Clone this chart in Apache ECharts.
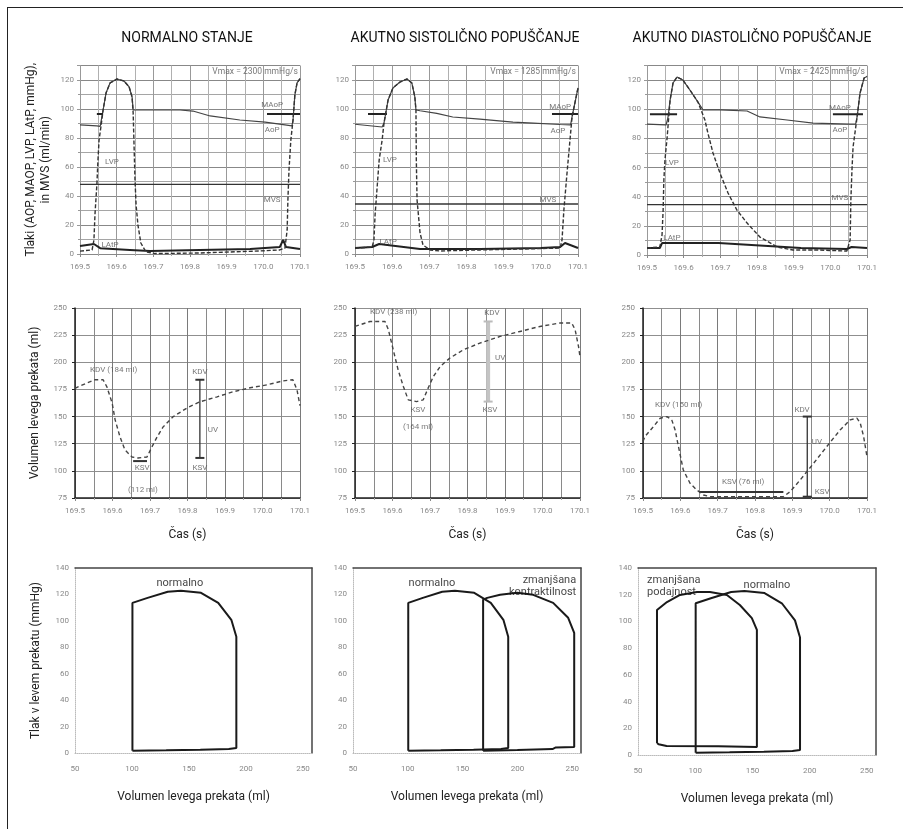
<!DOCTYPE html>
<html>
<head>
<meta charset="utf-8">
<script src="https://cdn.jsdelivr.net/npm/echarts@6/dist/echarts.min.js"></script>
<style>
html,body{margin:0;padding:0;background:#fff}
#wrap{position:relative;width:903px;height:829px;overflow:hidden}
#frame{position:absolute;left:7px;top:7px;width:910px;height:840px;border-left:1.5px solid #222;border-top:1.5px solid #222;pointer-events:none}
#chart{position:absolute;left:0;top:0;width:903px;height:829px}
</style>
</head>
<body>
<div id="wrap"><div id="chart"></div><div id="frame"></div></div>
<script>
// naslovi stolpcev
var titles = ['NORMALNO STANJE', 'AKUTNO SISTOLIČNO POPUŠČANJE', 'AKUTNO DIASTOLIČNO POPUŠČANJE'];

// osi
var timeRange = [169.5, 170.1, 0.1];      // cas (s)
var pressRange = [0, 130, 20];            // tlaki (mmHg)
var volRange = [75, 250, 25];             // volumen (ml)
var pvVolRange = [50, 258, 50];           // volumen v PV zanki
var pvPressRange = [0, 140, 20];          // tlak v PV zanki

// --- zgornja vrsta: tlaki [cas, mmHg] ---
var lvpNorm = [[169.5,2],[169.533,2.8],[169.538,9.7],[169.541,28],[169.546,47.6],[169.549,64.8],[169.552,78.6],[169.557,87.6],[169.563,99.3],[169.571,111],[169.582,118],[169.601,120.7],[169.62,119.3],[169.634,115.2],[169.642,108.3],[169.645,97.2],[169.647,78.6],[169.65,51],[169.653,33.8],[169.658,20],[169.666,7.6],[169.68,1.4],[169.705,0.3],[169.745,0.4],[169.827,0.7],[169.909,1.4],[169.991,2.1],[170.045,2.8],[170.059,4.1],[170.065,16.6],[170.067,37.2],[170.07,57.9],[170.075,78.6],[170.081,92.4],[170.086,109.7],[170.092,118],[170.1,121]];
var aopNorm = [[169.5,89],[169.546,88.3],[169.555,88],[169.557,88.5],[169.563,99.3],[169.571,111],[169.582,118],[169.601,120.7],[169.62,119.3],[169.634,115.2],[169.642,108.3],[169.645,99.3],[169.647,98],[169.691,99.3],[169.773,99.3],[169.808,98.6],[169.855,95.2],[169.936,92.4],[170.005,91],[170.059,89],[170.078,88.3],[170.081,92.4],[170.086,109.7],[170.092,118],[170.1,121]];
var latpNorm = [[169.5,5.5],[169.538,6.9],[169.555,4],[169.636,2.8],[169.691,2],[169.827,2.8],[169.964,3.4],[170.045,4.8],[170.054,9.7],[170.062,4.8],[170.1,3.4]];

var lvpSys = [[169.5,4.1],[169.546,4.8],[169.551,9.7],[169.554,26.9],[169.559,44.1],[169.565,64.8],[169.573,78.6],[169.578,90.3],[169.589,106.2],[169.602,114.5],[169.621,118.6],[169.64,120.7],[169.653,117.9],[169.661,108.3],[169.664,99.3],[169.665,64.8],[169.667,37.2],[169.675,14.5],[169.683,6.2],[169.702,2.8],[169.729,2.1],[169.836,2.8],[169.944,3.4],[170.052,4.1],[170.057,9.7],[170.062,30.3],[170.07,54.5],[170.076,71.7],[170.084,94.5],[170.095,108.3],[170.1,114.5]];
var aopSys = [[169.5,89.5],[169.573,87.6],[169.578,90.3],[169.589,106.2],[169.602,114.5],[169.621,118.6],[169.64,120.7],[169.653,117.9],[169.661,108.3],[169.664,99.3],[169.675,98.8],[169.72,97],[169.763,94.5],[169.836,93],[169.925,91],[169.98,90.3],[170.052,89.3],[170.08,89],[170.084,94.5],[170.095,108.3],[170.1,114.5]];
var latpSys = [[169.5,4.1],[169.546,4.8],[169.565,6.9],[169.675,3.4],[169.836,3.4],[170,4.1],[170.052,4.8],[170.065,7.6],[170.1,4.1]];

var lvpDia = [[169.5,4.8],[169.535,5.5],[169.541,13.7],[169.544,30.9],[169.546,51.4],[169.549,65.2],[169.555,80.9],[169.563,106.3],[169.571,118],[169.582,122.1],[169.598,120],[169.617,113.2],[169.639,104.9],[169.658,92.6],[169.666,83.7],[169.68,70],[169.699,56.2],[169.721,42.5],[169.745,30.9],[169.773,21.9],[169.808,12.3],[169.855,5.5],[169.898,3.4],[169.972,3.4],[170.045,2.7],[170.054,10.3],[170.056,37.7],[170.059,58.3],[170.062,74.1],[170.073,94.7],[170.081,111.1],[170.092,121.4],[170.1,122.5]];
var aopDia = [[169.5,89.8],[169.552,89.2],[169.557,94],[169.563,106.3],[169.571,118],[169.582,122.1],[169.598,120],[169.617,113.2],[169.639,104.9],[169.653,99.5],[169.699,99.5],[169.773,98.8],[169.808,94.7],[169.882,92.6],[169.953,90.5],[170.054,89.8],[170.069,89.8],[170.073,94.7],[170.081,111.1],[170.092,121.4],[170.1,122.5]];
var latpDia = [[169.5,4.8],[169.535,4.8],[169.541,8.2],[169.695,8.2],[169.785,6.9],[169.92,4.8],[170.045,4.1],[170.058,5.5],[170.1,4.8]];

var mvsValues = [48, 34.5, 34.5];
var maopValue = 96.5;
var maopSpans = [[[169.546,169.563],[170.01,170.1]], [[169.535,169.586],[170.03,170.1]], [[169.508,169.582],[170.007,170.089]]];
var vmaxTexts = ['Vmax = 2300 mmHg/s', 'Vmax = 1285 mmHg/s', 'Vmax = 2425 mmHg/s'];

// --- srednja vrsta: volumen [cas, ml] ---
var volNorm = [[169.5,176],[169.508,177.4],[169.553,183.9],[169.575,183.9],[169.585,177.4],[169.599,162.6],[169.607,147],[169.62,131.3],[169.633,119.3],[169.652,112.8],[169.668,111.9],[169.692,112.8],[169.705,122],[169.719,131.3],[169.735,140.5],[169.761,149.7],[169.799,158],[169.833,163.6],[169.879,168.2],[169.921,172.8],[169.967,176.5],[170.012,179.2],[170.055,182.9],[170.081,183.9],[170.092,174.6],[170.1,160]];
var volSys = [[169.5,233],[169.54,237.6],[169.58,237.6],[169.589,230],[169.602,211.5],[169.615,193],[169.629,177.7],[169.642,165.4],[169.664,163.8],[169.682,165.4],[169.695,176.2],[169.709,186.9],[169.727,196.1],[169.753,203.9],[169.789,211.5],[169.833,217.7],[169.887,223.8],[169.94,228.4],[169.993,233],[170.047,236.2],[170.078,236.2],[170.087,230],[170.096,214.6],[170.1,205]];
var volDia = [[169.5,127],[169.505,131.5],[169.528,140.8],[169.546,148.5],[169.564,150],[169.577,147],[169.586,137.7],[169.595,122.3],[169.608,100.8],[169.626,88.6],[169.644,82.4],[169.662,77.8],[169.68,76.2],[169.876,76.2],[169.894,80.8],[169.921,91.6],[169.957,107],[169.992,122.3],[170.028,137.7],[170.055,147],[170.073,148.5],[170.082,143.9],[170.091,131.5],[170.1,113]];
// utripni volumen: [cas, KDV, KSV]
var uvLines = [[169.833,183.9,111.9],[169.855,237.6,163.8],[169.94,150,76.2]];
// oznaka KSV: [od, do, ml]
var ksvBars = [[169.655,169.692,109],[169.65,169.876,80.5]];

// --- spodnja vrsta: PV zanke [ml, mmHg] ---
var pvNorm = [[100.4,1.7],[100.4,113.6],[113.7,117.4],[131.4,122],[143,122.7],[160.6,121.2],[175.7,113.6],[187.2,100.8],[191.6,88],[191.6,3.8],[185,3],[160,2.5],[130,2],[100.4,1.7]];
var pvSys = [[168.7,1.7],[168.7,116],[172.4,117.4],[184.2,119.7],[199.7,121.2],[214.4,119.7],[232.6,113.6],[246.3,102.3],[251.8,90.9],[251.8,4.5],[235,4.2],[232,3],[200,2.2],[168.7,1.7]];
var pvDia = [[66.6,9],[66.6,108.5],[75.3,114.5],[86.7,119.8],[101.5,122],[112.9,122],[127.7,119.8],[139,112.3],[149.5,102.5],[153.9,93.6],[153.9,6],[120,6.5],[75,6.7],[68,8],[66.6,9]];

// oznake: [x, y, besedilo, poravnava]
var notesTop = [
  [[169.587,63.4,'LVP'],[169.582,6.2,'LAtP'],[170.024,102.8,'MAoP'],[170.024,85.5,'AoP'],[170.024,37.2,'MVS']],
  [[169.594,64.8,'LVP'],[169.589,8.3,'LAtP'],[170.052,101.4,'MAoP'],[170.046,85,'AoP'],[170.019,37.2,'MVS']],
  [[169.568,63,'LVP'],[169.568,11.7,'LAtP'],[170.026,100.8,'MAoP'],[170.026,85.7,'AoP'],[170.026,39,'MVS']]
];
var notesMid = [
  [[169.54,193,'KDV (184 ml)','left'],[169.679,102.7,'KSV'],[169.681,82.4,'(112 ml)'],[169.833,191,'KDV'],[169.868,137.7,'UV'],[169.833,102.7,'KSV']],
  [[169.54,246.6,'KDV (238 ml)','left'],[169.668,156.2,'KSV'],[169.668,140.5,'(164 ml)'],[169.865,245.7,'KDV'],[169.887,204.2,'UV'],[169.86,156,'KSV']],
  [[169.532,160.8,'KDV (150 ml)','left'],[169.768,89.8,'KSV (76 ml)'],[169.926,156.2,'KDV'],[169.966,126.7,'UV'],[169.98,80.5,'KSV']]
];
var notesPv = [
  [[142,128.8,'normalno']],
  [[122,128.8,'normalno'],[253.6,126.5,'zmanjšana\nkontraktilnost','right']],
  [[57.9,126.5,'zmanjšana\npodajnost','left'],[162.7,127,'normalno']]
];

var FONT = 'Roboto';
var chart = echarts.init(document.getElementById('chart'));

var grids = [
  {left:80, top:65.5, width:220, height:188.5},
  {left:355, top:65.5, width:223, height:188.5},
  {left:647, top:65.5, width:220, height:189.5},
  {left:75, top:308, width:225, height:190},
  {left:355, top:308, width:225, height:190},
  {left:643, top:308, width:224, height:190},
  {left:75, top:568, width:237, height:185},
  {left:353, top:568, width:228, height:185},
  {left:638, top:568, width:238, height:187}
];
grids.forEach(function (g) { g.containLabel = false; g.outerBoundsMode = 'none'; });

var tickLabel = {fontSize:8, color:'#888', fontFamily:FONT};

function timeAxis(i, mid) {
  return {
    type:'value', gridIndex:i, min:timeRange[0], max:timeRange[1], interval:timeRange[2],
    axisLabel: Object.assign({margin:9, formatter:function (v) { return v.toFixed(1); }}, tickLabel),
    axisLine: {onZero:false, lineStyle:{color: mid ? '#222' : '#888', width: mid ? 1.5 : 1}},
    axisTick: {show:true, length:3, lineStyle:{color:'#888'}},
    minorTick: {show:true, splitNumber:2, length:2, lineStyle:{color:'#aaa'}},
    splitLine: {show:true, lineStyle:{color: mid ? '#7a7a7a' : '#999', width:1}},
    minorSplitLine: {show:true, lineStyle:{color: mid ? '#8a8a8a' : '#b0b0b0', width:1}},
    name: mid ? 'Čas (s)' : '', nameLocation:'middle', nameGap:31,
    nameTextStyle: {fontSize:12, color:'#222', fontFamily:FONT}
  };
}
function frameAxis(i, pos, range) {
  return {
    type:'value', gridIndex:i, position:pos, min:range[0], max:range[1],
    axisLabel:{show:false}, axisTick:{show:false}, splitLine:{show:false},
    axisLine:{show:true, onZero:false, lineStyle:{color:'#444', width:1.5}}
  };
}

var xAxes = [], yAxes = [], i;
for (i = 0; i < 3; i++) xAxes.push(timeAxis(i, false));
for (i = 3; i < 6; i++) xAxes.push(timeAxis(i, true));
for (i = 6; i < 9; i++) xAxes.push({
  type:'value', gridIndex:i, min:pvVolRange[0], max:pvVolRange[1], interval:pvVolRange[2],
  axisLabel: Object.assign({margin:12, showMaxLabel:false}, tickLabel),
  axisLine: {onZero:false, lineStyle:{color:'#bbb', type:'dotted'}},
  axisTick: {show:false}, splitLine: {show:false},
  name:'Volumen levega prekata (ml)', nameLocation:'middle', nameGap:38,
  nameTextStyle: {fontSize:12, color:'#222', fontFamily:FONT}
});
for (i = 6; i < 9; i++) xAxes.push(frameAxis(i, 'top', pvVolRange));

for (i = 0; i < 3; i++) yAxes.push({
  type:'value', gridIndex:i, min:pressRange[0], max:pressRange[1], interval:pressRange[2],
  axisLabel: Object.assign({margin:6, showMaxLabel:false}, tickLabel),
  axisLine: {show:true, lineStyle:{color:'#999'}},
  axisTick: {show:true, length:3},
  minorTick: {show:true, splitNumber:2, length:2},
  splitLine: {show:true, lineStyle:{color:'#888'}},
  minorSplitLine: {show:true, lineStyle:{color:'#a5a5a5'}},
  name: i === 0 ? 'Tlaki (AOP, MAOP, LVP, LAtP, mmHg),\nin MVS (ml/min)' : '',
  nameLocation:'middle', nameGap:27,
  nameTextStyle: {fontSize:12, color:'#222', fontFamily:FONT, lineHeight:15}
});
for (i = 3; i < 6; i++) yAxes.push({
  type:'value', gridIndex:i, min:volRange[0], max:volRange[1], interval:volRange[2],
  axisLabel: Object.assign({margin:8}, tickLabel),
  axisLine: {show:true, onZero:false, lineStyle:{color:'#222', width:1.5}},
  axisTick: {show:true, length:3},
  splitLine: {show:true, lineStyle:{color:'#8f8f8f'}},
  name: i === 3 ? 'Volumen levega prekata (ml)' : '',
  nameLocation:'middle', nameGap:34,
  nameTextStyle: {fontSize:12, color:'#222', fontFamily:FONT}
});
for (i = 6; i < 9; i++) yAxes.push({
  type:'value', gridIndex:i, min:pvPressRange[0], max:pvPressRange[1], interval:pvPressRange[2],
  axisLabel: Object.assign({margin:6}, tickLabel),
  axisLine: {show:true, onZero:false, lineStyle:{color:'#bbb', type:'dotted'}},
  axisTick: {show:false}, splitLine: {show:false},
  name: i === 6 ? 'Tlak v levem prekatu (mmHg)' : '',
  nameLocation:'middle', nameGap:33,
  nameTextStyle: {fontSize:12, color:'#222', fontFamily:FONT}
});
for (i = 6; i < 9; i++) yAxes.push(frameAxis(i, 'right', pvPressRange));

function line(g, data, style, z) {
  return {type:'line', xAxisIndex:g, yAxisIndex:g, data:data, symbol:'none', silent:true,
    lineStyle:style, z:z || 3, animation:false};
}
function notes(g, list, size) {
  return {type:'scatter', xAxisIndex:g, yAxisIndex:g, symbolSize:0, silent:true, z:6, animation:false,
    data: list.map(function (n) {
      return {value:[n[0], n[1]], label:{show:true, formatter:n[2], position:'inside',
        align:n[3] || 'center', verticalAlign:'middle', fontSize:size, lineHeight:size + 1,
        color: size > 9 ? '#111' : '#555', fontFamily:FONT}};
    })};
}

var series = [];
var lvp = [lvpNorm, lvpSys, lvpDia], aop = [aopNorm, aopSys, aopDia], latp = [latpNorm, latpSys, latpDia];
var vols = [volNorm, volSys, volDia];
for (i = 0; i < 3; i++) {
  series.push(line(i, [[timeRange[0], mvsValues[i]], [timeRange[1], mvsValues[i]]], {color:'#333', width:1.3}));
  maopSpans[i].forEach(function (s) {
    series.push(line(i, [[s[0], maopValue], [s[1], maopValue]], {color:'#222', width:2}, 4));
  });
  series.push(line(i, aop[i], {color:'#444', width:1.2}));
  series.push(line(i, latp[i], {color:'#222', width:2}));
  series.push(line(i, lvp[i], {color:'#333', width:1.4, type:[4, 2]}, 4));
  series.push(notes(i, notesTop[i], 8));
  series.push(notes(i, [[timeRange[1] - 0.006, 125.5, vmaxTexts[i], 'right']], 8.5));

  var g = i + 3, u = uvLines[i];
  series.push(line(g, vols[i], {color:'#444', width:1.4, type:[4, 3]}, 4));
  series.push({type:'line', xAxisIndex:g, yAxisIndex:g, silent:true, animation:false, z:3,
    data:[[u[0], u[1]], [u[0], u[2]]], symbol:'rect', symbolSize:[9, 2],
    itemStyle:{color: i === 1 ? '#bbb' : '#333'},
    lineStyle:{color: i === 1 ? '#c4c4c4' : '#333', width: i === 1 ? 4 : 1.3}});
  series.push(notes(g, notesMid[i], 8));
}
series.push(line(3, [[ksvBars[0][0], ksvBars[0][2]], [ksvBars[0][1], ksvBars[0][2]]], {color:'#333', width:2}));
series.push(line(5, [[ksvBars[1][0], ksvBars[1][2]], [ksvBars[1][1], ksvBars[1][2]]], {color:'#333', width:2}));

var pvStyle = {color:'#1a1a1a', width:2};
series.push(line(6, pvNorm, pvStyle));
series.push(line(7, pvNorm, pvStyle));
series.push(line(7, pvSys, pvStyle));
series.push(line(8, pvNorm, pvStyle));
series.push(line(8, pvDia, pvStyle));
for (i = 0; i < 3; i++) series.push(notes(6 + i, notesPv[i], 11));

var titleX = [187, 465, 752];
var titleOpts = titles.map(function (t, k) {
  return {text:t, left:titleX[k], top:31, padding:0, textAlign:'center',
    textStyle:{fontSize:14, fontWeight:'normal', color:'#111', fontFamily:FONT}};
});

chart.setOption({
  animation:false,
  backgroundColor:'#fff',
  textStyle:{fontFamily:FONT},
  title:titleOpts,
  grid:grids,
  xAxis:xAxes,
  yAxis:yAxes,
  series:series
});
</script>
</body>
</html>
